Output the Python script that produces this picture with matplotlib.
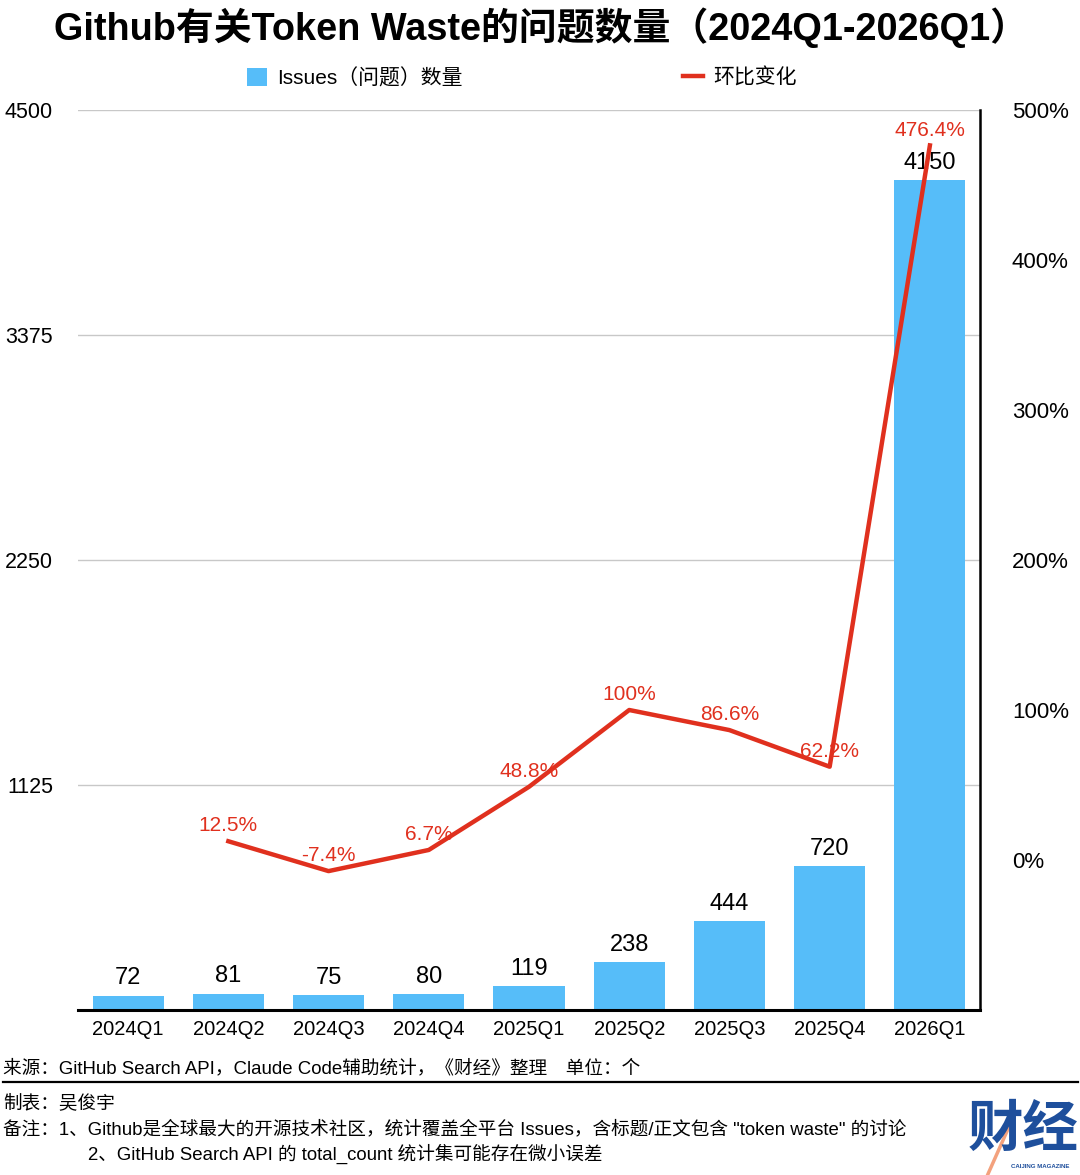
import matplotlib
matplotlib.use("Agg")
import matplotlib.pyplot as plt
from matplotlib.patches import Patch
from matplotlib.lines import Line2D

plt.rcParams['font.family'] = ['Liberation Sans', 'Noto Sans CJK SC', 'DejaVu Sans']

quarters = ['2024Q1', '2024Q2', '2024Q3', '2024Q4', '2025Q1', '2025Q2', '2025Q3', '2025Q4', '2026Q1']
issues = [72, 81, 75, 80, 119, 238, 444, 720, 4150]
qoq_quarters = ['2024Q2', '2024Q3', '2024Q4', '2025Q1', '2025Q2', '2025Q3', '2025Q4', '2026Q1']
qoq_pct = [12.5, -7.4, 6.7, 48.8, 100, 86.6, 62.2, 476.4]
left_ticks = [1125, 2250, 3375, 4500]
right_ticks = [0, 100, 200, 300, 400, 500]

BLUE = '#56BDF9'
RED = '#E0301E'

W, H = 1080, 1175
fig = plt.figure(figsize=(W / 100, H / 100), dpi=100)

def fx(px):
    return px / W

def fy(py):
    return 1 - py / H

ax = fig.add_axes([fx(78), fy(1010), fx(980) - fx(78), fy(110) - fy(1010)])
x = list(range(len(quarters)))
ax.bar(x, issues, width=0.71, color=BLUE, zorder=2)
ax.set_xlim(-0.5, len(quarters) - 0.5)
ax.set_ylim(0, 4500)
ax.set_yticks(left_ticks)
ax.set_yticklabels([str(t) for t in left_ticks])
ax.set_xticks(x)
ax.set_xticklabels(quarters)
ax.tick_params(axis='y', length=0, pad=18, labelsize=15.5)
ax.tick_params(axis='x', length=0, pad=7, labelsize=14.5)
ax.grid(axis='y', color='#c8c8c8', linewidth=1, zorder=0)
ax.set_axisbelow(True)
for s in ['left', 'top', 'right']:
    ax.spines[s].set_visible(False)
ax.spines['bottom'].set_linewidth(2.2)
ax.spines['bottom'].set_color('black')

for xi, v in zip(x, issues):
    ax.annotate(str(v), (xi, v), xytext=(0, 12.5), textcoords='offset points',
                ha='center', va='center', fontsize=17, color='black', zorder=3)

ax2 = ax.twinx()
ax2.set_ylim(-100, 500)
ax2.set_yticks(right_ticks)
ax2.set_yticklabels([f'{t}%' for t in right_ticks])
ax2.tick_params(axis='y', length=0, pad=23, labelsize=16)
for s in ['left', 'top', 'bottom']:
    ax2.spines[s].set_visible(False)
ax2.spines['right'].set_linewidth(1.8)
ax2.spines['right'].set_color('black')

qx = [quarters.index(q) for q in qoq_quarters]
ax2.plot(qx, qoq_pct, color=RED, linewidth=3.2, zorder=4, solid_joinstyle='round')
for xi, v in zip(qx, qoq_pct):
    ax2.annotate(f'{v:g}%', (xi, v), xytext=(0, 11), textcoords='offset points',
                 ha='center', va='center', fontsize=15, color=RED, zorder=3)

# Title
fig.text(fx(541), fy(28), 'Github有关Token Waste的问题数量（2024Q1-2026Q1）',
         ha='center', va='center', fontsize=27.3, fontweight='bold', color='black')

# Legend
handles = [Patch(facecolor=BLUE, edgecolor='none'),
           Line2D([0], [0], color=RED, linewidth=3.2)]
fig.legend(handles, ['Issues（问题）数量', '环比变化'], loc='center',
           bbox_to_anchor=(fx(522), fy(78)), ncol=2, frameon=False,
           fontsize=15, handlelength=0.95, handleheight=0.95,
           handletextpad=0.5, columnspacing=10.6)

# Footer
fs = 13.4
fig.text(fx(3), fy(1068), '来源：GitHub Search API，Claude Code辅助统计，《财经》整理　单位：个',
         ha='left', va='center', fontsize=fs)
fig.add_artist(Line2D([fx(3), fx(1078)], [fy(1082), fy(1082)], color='black', linewidth=1.6))
fig.text(fx(3), fy(1103), '制表：吴俊宇', ha='left', va='center', fontsize=fs)
fig.text(fx(3), fy(1129), '备注：1、Github是全球最大的开源技术社区，统计覆盖全平台 Issues，含标题/正文包含 "token waste" 的讨论',
         ha='left', va='center', fontsize=fs)
fig.text(fx(88), fy(1154), '2、GitHub Search API 的 total_count 统计集可能存在微小误差',
         ha='left', va='center', fontsize=fs)

# Logo
fig.add_artist(Line2D([fx(988), fx(1012)], [fy(1174), fy(1120)], color='#F08A5D', linewidth=2.5, alpha=0.8))
fig.text(fx(1023), fy(1132), '财经', ha='center', va='center', fontsize=40,
         fontweight='bold', color='#1E4F9C')
fig.text(fx(1040), fy(1167), 'CAIJING MAGAZINE', ha='center', va='center', fontsize=4.4,
         fontweight='bold', color='#1E4F9C')

fig.savefig('out.png', dpi=100)
